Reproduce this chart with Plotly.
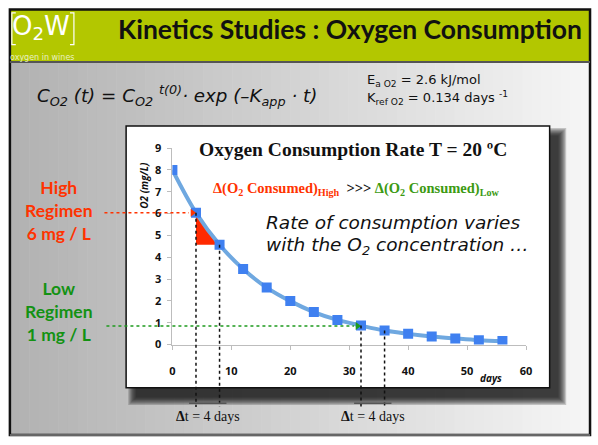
import plotly.graph_objects as go

# ---- data ----
days = [0, 4, 8, 12, 16, 20, 24, 28, 32, 36, 40, 44, 48, 52, 56]
o2 = [8.0, 6.04, 4.57, 3.46, 2.61, 1.99, 1.49, 1.13, 0.87, 0.64, 0.49, 0.37, 0.28, 0.20, 0.16]
x_ticks = [0, 10, 20, 30, 40, 50, 60]
y_ticks = [0, 1, 2, 3, 4, 5, 6, 7, 8, 9]
high_win = [4, 8]      # days of the "high" delta-t window
low_win = [32, 36]     # days of the "low" delta-t window
high_level = 6.04
low_level = 0.85

W, H = 598, 445
X_RANGE = [0, 60]
Y_RANGE = [0, 9]
XD = [172 / W, 531 / W]
YD = [1 - 348.3 / H, 1 - 145 / H]


def X(px):
    return px / W


def Y(py):
    return 1 - py / H


def dx(v):
    return XD[0] + (v - X_RANGE[0]) / (X_RANGE[1] - X_RANGE[0]) * (XD[1] - XD[0])


def dy(v):
    return YD[0] + (v - Y_RANGE[0]) / (Y_RANGE[1] - Y_RANGE[0]) * (YD[1] - YD[0])


def grey(t, a=178, b=246):
    c = int(a + (b - a) * t)
    return f"rgb({c},{c},{c})"


shapes = []
# ---- slide background gradient ----
n = 60
for i in range(n):
    x0 = 7 + i * (589 / n)
    shapes.append(dict(type="rect", xref="paper", yref="paper",
                       x0=X(x0), x1=X(x0 + 589 / n + 0.6), y0=Y(442), y1=Y(56),
                       line_width=0, fillcolor=grey(i / (n - 1)), layer="below"))
# header band
shapes.append(dict(type="rect", xref="paper", yref="paper", x0=X(7), x1=X(595), y0=Y(55), y1=Y(2),
                   line_width=0, fillcolor="#B3C700", layer="below"))
# frame lines
shapes.append(dict(type="rect", xref="paper", yref="paper", x0=X(7), x1=X(596), y0=Y(442), y1=Y(1.5),
                   line=dict(color="#111", width=2.5), fillcolor="rgba(0,0,0,0)", layer="below"))
shapes.append(dict(type="line", xref="paper", yref="paper", x0=X(7), x1=X(596), y0=Y(56), y1=Y(56),
                   line=dict(color="#555", width=2), layer="below"))
shapes.append(dict(type="line", xref="paper", yref="paper", x0=X(7), x1=X(596), y0=Y(442), y1=Y(442),
                   line=dict(color="#666", width=2), layer="below"))

# logo brackets
for xa, xb in [(9, 13), (72, 68)]:
    shapes.append(dict(type="path", xref="paper", yref="paper",
                       path=f"M {X(xb)},{Y(5)} L {X(xa)},{Y(5)} L {X(xa)},{Y(38)} L {X(xb)},{Y(38)}",
                       line=dict(color="white", width=1.2), layer="below"))

# ---- chart box shadow + white box ----
for k in range(7):
    e = (6 - k) * 1.3
    shapes.append(dict(type="rect", xref="paper", yref="paper",
                       x0=X(135 - e), x1=X(564 + e), y0=Y(403 + e), y1=Y(132 - e),
                       line_width=0, fillcolor="rgba(20,20,20,0.21)", layer="below"))
shapes.append(dict(type="rect", xref="paper", yref="paper", x0=X(125), x1=X(555), y0=Y(393), y1=Y(122),
                   line=dict(color="#111", width=1.5), fillcolor="white", layer="below"))

# ---- guide lines ----
shapes.append(dict(type="line", xref="paper", yref="paper", x0=X(103), x1=dx(high_win[0]) - 0.012,
                   y0=dy(high_level), y1=dy(high_level), line=dict(color="#FF3300", width=1.6, dash="dot")))
shapes.append(dict(type="line", xref="paper", yref="paper", x0=X(105), x1=dx(low_win[0]) - 0.012,
                   y0=dy(low_level), y1=dy(low_level), line=dict(color="#1E9A1E", width=1.6, dash="dot")))
tops = [o2[days.index(high_win[0])], o2[days.index(high_win[1])],
        o2[days.index(low_win[0])], o2[days.index(low_win[1])]]
for d, top in zip(high_win + low_win, tops):
    shapes.append(dict(type="line", xref="paper", yref="paper", x0=dx(d), x1=dx(d),
                       y0=dy(top), y1=Y(413), line=dict(color="#111", width=1.5, dash="dot")))
for win in [high_win, low_win]:
    shapes.append(dict(type="line", xref="paper", yref="paper", x0=dx(win[0]) - X(7), x1=dx(win[1]) + X(7),
                       y0=Y(409), y1=Y(409), line=dict(color="#555", width=1.5)))

fig = go.Figure()

# red triangle (high regimen)
h0, h1 = o2[days.index(high_win[0])], o2[days.index(high_win[1])]
fig.add_trace(go.Scatter(x=[high_win[0], high_win[0], high_win[1], high_win[0]], y=[h0, h1, h1, h0],
                         fill="toself", fillcolor="#FF2A00", mode="lines", line=dict(width=0),
                         hoverinfo="skip", showlegend=False))
# green sliver (low regimen)
l0, l1 = o2[days.index(low_win[0])], o2[days.index(low_win[1])]
fig.add_trace(go.Scatter(x=[low_win[0], low_win[1] - 0.5, low_win[0], low_win[0]],
                         y=[l0, l1 + 0.07, l0 - 0.1, l0],
                         fill="toself", fillcolor="#22C022", mode="lines", line=dict(width=0),
                         hoverinfo="skip", showlegend=False))

fig.add_trace(go.Scatter(x=days, y=o2, mode="lines+markers",
                         line=dict(color="#6FA8E0", width=4, shape="spline"),
                         marker=dict(symbol="square", size=10, color="#3F80F0"),
                         showlegend=False))

# arrow heads
fig.add_trace(go.Scatter(x=[high_win[0] - 0.6, low_win[0] - 0.6], y=[high_level, low_level],
                         mode="markers", marker=dict(symbol="triangle-right", size=7,
                                                     color=["#FF3300", "#1E9A1E"]),
                         cliponaxis=False, hoverinfo="skip", showlegend=False))

ann = []


def txt(x, y, s, size, color="#111", family="Lato", xanchor="center", **kw):
    ann.append(dict(x=X(x), y=Y(y), xref="paper", yref="paper", text=s, showarrow=False,
                    font=dict(size=size, color=color, family=family), xanchor=xanchor,
                    yanchor="middle", **kw))


txt(115, 22, "<b>Kinetics Studies : Oxygen Consumption</b>", 26.5, xanchor="left")
txt(39, 20, "O<sub>2</sub>W", 26, color="white", family="DejaVu Sans")
txt(40, 51, "oxygen in wines", 8, color="#E8F0C0", family="DejaVu Sans")

txt(32, 91, "<i>C<sub>O2</sub> (t) = C<sub>O2</sub> <sup>t(0)</sup>· exp (–K<sub>app</sub> · t)</i>", 18.3,
    family="DejaVu Sans", xanchor="left")
txt(368, 75, "E<sub>a O2</sub> = 2.6 kJ/mol", 13, family="DejaVu Sans", xanchor="left")
txt(368, 93, "K<sub>ref O2</sub> = 0.134 days <sup>-1</sup>", 13, family="DejaVu Sans", xanchor="left")

txt(355, 146, "<b>Oxygen Consumption Rate T = 20 ºC</b>", 19.5, family="Liberation Serif")
txt(211, 187, "<b><span style='color:#FF3300'>Δ(O<sub>2</sub> Consumed)<sub>High</sub></span>"
              "  >>> <span style='color:#3C9A12'>Δ(O<sub>2</sub> Consumed)<sub>Low</sub></span></b>",
    14.5, family="Liberation Serif", xanchor="left")
txt(265, 222, "<i>Rate of consumption varies</i>", 18.5, family="DejaVu Sans", xanchor="left")
txt(265, 246, "<i>with the O<sub>2</sub> concentration …</i>", 18.5, family="DejaVu Sans", xanchor="left")

txt(57, 210, "<b>High<br>Regimen<br>6 mg / L</b>", 17.5, color="#FF3300")
txt(57, 314, "<b>Low<br>Regimen<br>1 mg / L</b>", 17.5, color="#139213")

txt(143, 183, "<b><i>O2 (mg/L)</i></b>", 10, family="Open Sans", textangle=-90)
txt(495, 383, "<b><i>days</i></b>", 10, family="Open Sans")

for win in [high_win, low_win]:
    cx = (dx(win[0]) + dx(win[1])) / 2 * W
    txt(cx, 423, "<b>Δ</b>t = 4 days", 14, family="Liberation Serif")

fig.update_layout(
    width=W, height=H, margin=dict(l=0, r=0, t=0, b=0),
    paper_bgcolor="white", plot_bgcolor="rgba(0,0,0,0)",
    shapes=shapes, annotations=ann,
    xaxis=dict(domain=XD, range=X_RANGE, tickvals=x_ticks, showgrid=False, zeroline=False,
               showline=True, linecolor="#BDBDBD", linewidth=1, ticks="outside", ticklen=4,
               tickcolor="#BDBDBD", ticklabelstandoff=12,
               tickfont=dict(family="Open Sans", size=11, color="#111", weight="bold")),
    yaxis=dict(domain=YD, range=Y_RANGE, tickvals=y_ticks, showgrid=False, zeroline=False,
               showline=True, linecolor="#BDBDBD", linewidth=1, ticks="outside", ticklen=4,
               tickcolor="#BDBDBD", ticklabelstandoff=4,
               tickfont=dict(family="Open Sans", size=11, color="#111", weight="bold")),
)

fig.write_html("out.html", config={"displayModeBar": False},
               post_script="document.body.style.margin='0px';document.body.style.overflow='hidden';")
